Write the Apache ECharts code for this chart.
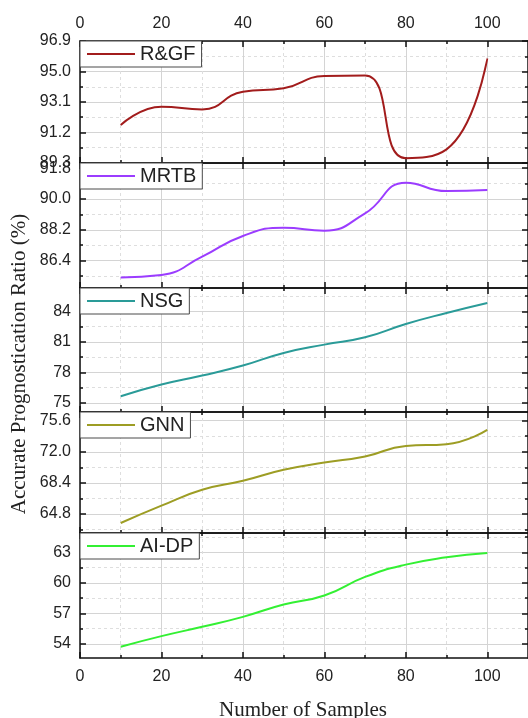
<!DOCTYPE html>
<html>
<head>
<meta charset="utf-8">
<script src="https://cdn.jsdelivr.net/npm/echarts@6/dist/echarts.min.js"></script>
<style>
  html, body { margin: 0; padding: 0; background: #fff; }
  #chart { width: 528px; height: 718px; }
</style>
</head>
<body>
<div id="chart"></div>
<script>
// Number of samples on the shared horizontal axis
const samples = [10, 20, 30, 40, 50, 60, 70, 80, 90, 100];

// Accurate prognostication ratio (%) for each method
const seriesNames = ['R&GF', 'MRTB', 'NSG', 'GNN', 'AI-DP'];
const rgfValues  = [91.67, 92.81, 92.64, 93.74, 93.95, 94.72, 94.75, 89.60, 90.15, 95.82];
const mrtbValues = [85.42, 85.56, 86.63, 87.84, 88.32, 88.15, 89.16, 90.95, 90.46, 90.52];
const nsgValues  = [75.65, 76.80, 77.69, 78.67, 79.91, 80.73, 81.45, 82.76, 83.84, 84.82];
const gnnValues  = [63.76, 65.76, 67.60, 68.64, 69.91, 70.75, 71.45, 72.68, 72.88, 74.53];
const aidpValues = [53.71, 54.75, 55.67, 56.65, 57.86, 58.75, 60.58, 61.79, 62.51, 62.94];

// Axis ticks
const xTickLabels = ['0', '20', '40', '60', '80', '100'];
const xMinorTicks = [10, 30, 50, 70, 90];
const yTickLabels = [
  ['89.3', '91.2', '93.1', '95.0', '96.9'],
  ['86.4', '88.2', '90.0', '91.8'],
  ['75', '78', '81', '84'],
  ['64.8', '68.4', '72.0', '75.6'],
  ['54', '57', '60', '63']
];
const yRanges = [[89.3, 96.9], [84.8, 92.1], [74.1, 86.3], [62.6, 76.6], [52.6, 64.9]];

// Layout of the stacked panels
const panelTops = [41, 163, 288, 412, 533, 658];
const plotLeft = 80;
const plotWidth = 451; // spans 0..110 on the x axis
const xMax = 110;

const colors = ['#a21c1c', '#9b3cff', '#2a9b98', '#9d9d24', '#33f033'];
const allValues = [rgfValues, mrtbValues, nsgValues, gnnValues, aidpValues];

const sansFont = '"Liberation Sans", Arial, sans-serif';
const axisColor = '#111';
const majorGrid = { color: '#d4d4d4', width: 1, type: 'solid' };
const minorGrid = { color: '#dedede', width: 1, type: [3, 3] };

const grids = [], xAxes = [], yAxes = [], series = [], legends = [];
const xMajor = xTickLabels.map(Number);

// Half-step positions between major ticks, kept inside the axis range
function minorBetween(major, range) {
  const out = [];
  const step = major[1] - major[0];
  const first = major[0] - step / 2;
  for (let v = first; v <= range[1] + 1e-9; v += step) {
    if (v >= range[0] - 1e-9) out.push(Math.round(v * 1000) / 1000);
  }
  return out;
}

function xAxisDef(i, position, values, len, split, showLabels, showLine) {
  return {
    type: 'value', gridIndex: i, position: position, min: 0, max: xMax,
    axisLine: { show: showLine, onZero: false, lineStyle: { color: axisColor, width: 1.5 } },
    axisTick: { show: true, inside: true, length: len, customValues: values,
                lineStyle: { color: axisColor, width: 1.5 } },
    axisLabel: { show: showLabels, customValues: values, margin: position === 'bottom' ? 11 : 9,
                 fontFamily: sansFont, fontSize: 16, color: '#222' },
    splitLine: split ? { show: true, lineStyle: split } : { show: false }
  };
}

function yAxisDef(i, position, values, len, split, labels, showLine) {
  const range = yRanges[i];
  return {
    type: 'value', gridIndex: i, position: position, min: range[0], max: range[1],
    axisLine: { show: showLine, onZero: false, lineStyle: { color: axisColor, width: 1.5 } },
    axisTick: { show: true, inside: true, length: len, customValues: values,
                lineStyle: { color: axisColor, width: 1.5 } },
    axisLabel: labels ? {
      show: true, customValues: values, margin: 9,
      fontFamily: sansFont, fontSize: 16, color: '#222',
      formatter: function (v) {
        const idx = values.findIndex(function (t) { return Math.abs(t - v) < 1e-6; });
        return idx >= 0 ? labels[idx] : '';
      }
    } : { show: false },
    splitLine: split ? { show: true, lineStyle: split } : { show: false }
  };
}

for (let i = 0; i < 5; i++) {
  const top = panelTops[i];
  const height = panelTops[i + 1] - panelTops[i];
  grids.push({ left: plotLeft, top: top, width: plotWidth, height: height });

  // x axes: bottom major, bottom minor, top major, top minor
  xAxes.push(xAxisDef(i, 'bottom', xMajor, 6, majorGrid, i === 4, true));
  xAxes.push(xAxisDef(i, 'bottom', xMinorTicks, 3, minorGrid, false, false));
  xAxes.push(xAxisDef(i, 'top', xMajor, 6, null, i === 0, true));
  xAxes.push(xAxisDef(i, 'top', xMinorTicks, 3, null, false, false));

  // y axes: left major, left minor, right major, right minor
  const yMajor = yTickLabels[i].map(Number);
  const yMinor = minorBetween(yMajor, yRanges[i]);
  yAxes.push(yAxisDef(i, 'left', yMajor, 6, majorGrid, yTickLabels[i], true));
  yAxes.push(yAxisDef(i, 'left', yMinor, 3, minorGrid, null, false));
  yAxes.push(yAxisDef(i, 'right', yMajor, 6, null, null, true));
  yAxes.push(yAxisDef(i, 'right', yMinor, 3, null, null, false));

  series.push({
    type: 'line',
    name: seriesNames[i],
    xAxisIndex: i * 4,
    yAxisIndex: i * 4,
    data: samples.map(function (x, k) { return [x, allValues[i][k]]; }),
    smooth: true,
    symbol: 'none',
    clip: true,
    z: 3,
    lineStyle: { color: colors[i], width: 2 },
    itemStyle: { color: colors[i] }
  });

  legends.push({
    data: [seriesNames[i]],
    left: plotLeft,
    top: top,
    orient: 'horizontal',
    selectedMode: false,
    backgroundColor: '#fff',
    borderColor: '#4a4a4a',
    borderWidth: 1,
    borderRadius: 0,
    padding: [3, 6, 3, 7],
    icon: 'rect',
    itemWidth: 48,
    itemHeight: 2,
    z: 10,
    textStyle: { fontFamily: sansFont, fontSize: 20, color: '#222' }
  });
}

const chart = echarts.init(document.getElementById('chart'), null, { renderer: 'canvas' });
chart.setOption({
  animation: false,
  backgroundColor: '#fff',
  grid: grids,
  xAxis: xAxes,
  yAxis: yAxes,
  legend: legends,
  series: series,
  graphic: [
    {
      type: 'text', x: 19, y: 364, rotation: Math.PI / 2,
      style: { text: 'Accurate Prognostication Ratio (%)', font: '21px "Liberation Serif", "Times New Roman", serif',
               fill: '#222', align: 'center', verticalAlign: 'middle' }
    },
    {
      type: 'text', x: 303, y: 710,
      style: { text: 'Number of Samples', font: '21px "Liberation Serif", "Times New Roman", serif',
               fill: '#222', align: 'center', verticalAlign: 'middle' }
    }
  ]
});
</script>
</body>
</html>
